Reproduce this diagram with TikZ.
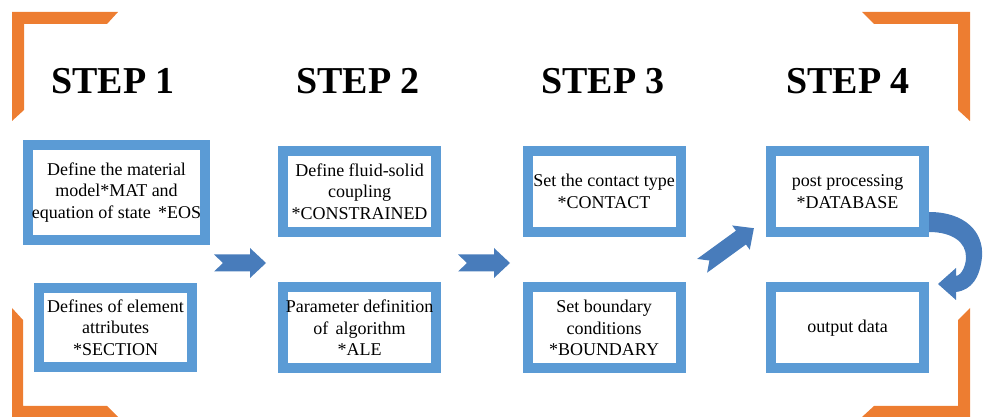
\documentclass[tikz,border=0pt]{standalone}
\usepackage{fontspec}
\setmainfont{Liberation Serif}
\usepackage{tikz}
\usetikzlibrary{positioning}
\definecolor{boxblue}{RGB}{91,155,213}
\definecolor{arrowblue}{RGB}{72,124,187}
\definecolor{cornerorange}{RGB}{237,125,49}

\begin{document}
\begin{tikzpicture}[x=1pt, y=1pt,
	node distance=245pt,
	title/.style={font=\fontsize{38}{38}\selectfont\bfseries, inner sep=0pt},
	stepbox/.style={draw=boxblue, line width=10pt, fill=white, align=center,
		inner sep=0pt, minimum width=153pt, minimum height=81pt,
		font=\fontsize{18}{21.5}\selectfont},
	blockarrow/.style={fill=arrowblue},
	corner/.style={fill=cornerorange}]
	\useasboundingbox (0,0) rectangle (984,417);
	% orange corners
	\fill[corner] (12,405) -- (118,405) -- (107,393) -- (24,393) -- (24,307) -- (12,296) -- cycle;
	\fill[corner] (970,405) -- (862,405) -- (874,393) -- (958,393) -- (958,307) -- (970,296) -- cycle;
	\fill[corner] (12,109) -- (23,97) -- (23,11) -- (107,11) -- (118,0) -- (12,0) -- cycle;
	\fill[corner] (970,109) -- (958,97) -- (958,11) -- (874,11) -- (862,0) -- (970,0) -- cycle;
	% titles
	\node[title] (1) at (113,336) {STEP 1};
	\node[title] (2) [right of=1] {STEP 2};
	\node[title] (3) [right of=2] {STEP 3};
	\node[title] (4) [right of=3] {STEP 4};
	% boxes
	\node[stepbox, minimum width=177pt, minimum height=95pt] (5) [node distance=111.5pt, below of=1, xshift=3.5pt]
		{Define the material\\model*MAT and\\equation of state \,*EOS};
	\node[stepbox] (6) [node distance=110.5pt, below of=2, xshift=1.5pt]
		{Define fluid-solid\\coupling\\*CONSTRAINED};
	\node[stepbox] (7) [node distance=110.5pt, below of=3, xshift=1pt]
		{Set the contact type\\*CONTACT};
	\node[stepbox] (8) [node distance=110.5pt, below of=4, xshift=-0.5pt]
		{post processing\\*DATABASE};
	\node[stepbox, minimum height=79pt] (9) [node distance=246.5pt, below of=1, xshift=2.5pt]
		{Defines of element\\attributes\\*SECTION};
	\node[stepbox] (10) [node distance=247pt, below of=2, xshift=1.5pt]
		{Parameter definition\\of \,algorithm\\*ALE};
	\node[stepbox] (11) [node distance=247pt, below of=3, xshift=1pt]
		{Set boundary\\conditions\\*BOUNDARY};
	\node[stepbox] (12) [node distance=247pt, below of=4, xshift=-0.5pt]
		{output data};
	% block arrows
	\coordinate (a1) at (240,154);
	\coordinate (a2) at (484,154);
	\coordinate (a3) at (728,170);
	\fill[blockarrow, shift={(a1)}] (-26,8.5) -- (10,8.5) -- (10,15) -- (26,0) -- (10,-15)
		-- (10,-8.5) -- (-26,-8.5) -- (-17,0) -- cycle;
	\fill[blockarrow, shift={(a2)}] (-26,8.5) -- (10,8.5) -- (10,15) -- (26,0) -- (10,-15)
		-- (10,-8.5) -- (-26,-8.5) -- (-17,0) -- cycle;
	\fill[blockarrow, shift={(a3)}, rotate=36] (-32,8.5) -- (16,8.5) -- (16,15) -- (32,0) -- (16,-15)
		-- (16,-8.5) -- (-32,-8.5) -- (-23,0) -- cycle;
	% curved arrow from 8 to 12
	\fill[blockarrow] (8.east |- 0,205) .. controls (965,205) and (984,185) .. (982,160)
		.. controls (980,140) and (972,127) .. (956,125) -- (956,117) -- (938,133) -- (956,149)
		-- (956,141) .. controls (962,142) and (966,152) .. (966,160)
		.. controls (966,175) and (952,185) .. (8.east |- 0,185) -- cycle;
\end{tikzpicture}
\end{document}
